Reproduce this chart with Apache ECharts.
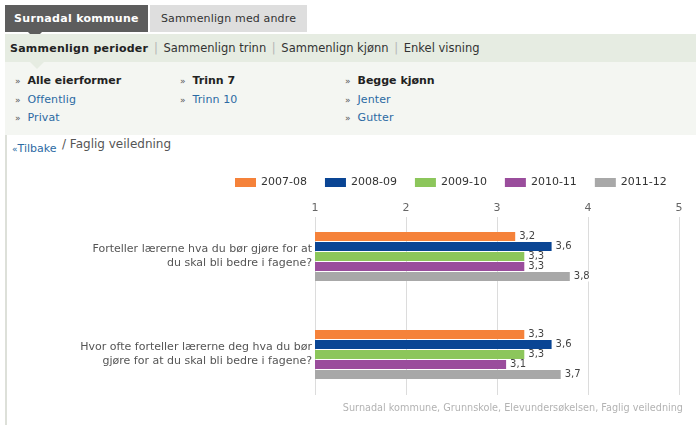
<!DOCTYPE html>
<html>
<head>
<meta charset="utf-8">
<script src="https://cdn.jsdelivr.net/npm/echarts@6/dist/echarts.min.js"></script>
<style>
  html, body { margin: 0; padding: 0; background: #fff; width: 696px; height: 425px; overflow: hidden; font-family: "DejaVu Sans", Verdana, sans-serif; }
  .abs { position: absolute; }
  .tab1 { left: 5px; top: 5px; width: 143px; height: 27px; background: #5d5d5d; color: #fff; font-weight: bold; font-size: 11px; letter-spacing: 0.3px; line-height: 27px; text-align: center; }
  .tab2 { left: 150px; top: 5px; width: 157px; height: 27px; background: #dedede; color: #333; font-size: 11px; letter-spacing: 0.15px; line-height: 27px; text-align: center; }
  .tri1 { left: 28px; top: 32px; width: 0; height: 0; border-left: 7px solid transparent; border-right: 7px solid transparent; border-top: 7px solid #5d5d5d; }
  .sub { left: 5px; top: 34px; right: 0; height: 28px; background: #e6ece2; font-size: 11.5px; line-height: 28px; color: #333; white-space: nowrap; }
  .sub b { color: #222; font-size: 11px; letter-spacing: 0.25px; }
  .sep { color: #b5b5b5; margin: 0 2px; }
  .tri2 { left: 30px; top: 62px; width: 0; height: 0; border-left: 7px solid transparent; border-right: 7px solid transparent; border-top: 7px solid #e6ece2; z-index: 2; }
  .panel { left: 5px; top: 62px; right: 0; height: 73px; background: #f4f6f2; }
  .it { font-size: 11px; white-space: nowrap; }
  .it .r { color: #555; font-size: 9px; margin-right: 7px; }
  .bold { color: #222; font-weight: bold; }
  .lnk { color: #2b6aa3; letter-spacing: 0.1px; }
  .lb { left: 5px; top: 135px; width: 2px; height: 290px; background: #dde0d9; }
  .back { left: 12px; top: 142px; font-size: 11px; color: #2b6aa3; }
  .crumb { left: 62px; top: 137px; font-size: 12px; color: #555; }
  #chart { position: absolute; left: 0; top: 0; width: 696px; height: 425px; }
</style>
</head>
<body>
<div class="abs tab1">Surnadal kommune</div>
<div class="abs tab2">Sammenlign med andre</div>
<div class="abs tri1"></div>
<div class="abs sub"><span style="margin-left:5px"><b>Sammenlign perioder</b></span> <span class="sep">|</span> Sammenlign trinn <span class="sep">|</span> Sammenlign kjønn <span class="sep">|</span> Enkel visning</div>
<div class="abs panel"></div>
<div class="abs tri2"></div>
<div class="abs it" style="left:15px;top:74px"><span class="r">»</span><span class="bold">Alle eierformer</span></div>
<div class="abs it" style="left:15px;top:93px"><span class="r">»</span><span class="lnk">Offentlig</span></div>
<div class="abs it" style="left:15px;top:111px"><span class="r">»</span><span class="lnk">Privat</span></div>
<div class="abs it" style="left:180px;top:74px"><span class="r">»</span><span class="bold">Trinn 7</span></div>
<div class="abs it" style="left:180px;top:93px"><span class="r">»</span><span class="lnk">Trinn 10</span></div>
<div class="abs it" style="left:345px;top:74px"><span class="r">»</span><span class="bold">Begge kjønn</span></div>
<div class="abs it" style="left:345px;top:93px"><span class="r">»</span><span class="lnk">Jenter</span></div>
<div class="abs it" style="left:345px;top:111px"><span class="r">»</span><span class="lnk">Gutter</span></div>
<div class="abs lb"></div>
<div class="abs back"><span style="font-size:9px">«</span>Tilbake</div>
<div class="abs crumb">/ Faglig veiledning</div>
<div id="chart"></div>
<script>
const categories = [
  "Forteller lærerne hva du bør gjøre for at\ndu skal bli bedre i fagene?",
  "Hvor ofte forteller lærerne deg hva du bør\ngjøre for at du skal bli bedre i fagene?"
];
const seriesNames = ["2007-08", "2008-09", "2009-10", "2010-11", "2011-12"];
const v2007 = [3.2, 3.3];
const v2008 = [3.6, 3.6];
const v2009 = [3.3, 3.3];
const v2010 = [3.3, 3.1];
const v2011 = [3.8, 3.7];
const colors = ["#f5823a", "#0a4594", "#8cc65b", "#9a4d9c", "#a8a8a8"];
const axisTicks = [1, 2, 3, 4, 5];
const footer = "Surnadal kommune, Grunnskole, Elevundersøkelsen, Faglig veiledning";

const allValues = [v2007, v2008, v2009, v2010, v2011];
const chart = echarts.init(document.getElementById('chart'), null, { renderer: 'canvas' });
const font = '"DejaVu Sans", Verdana, sans-serif';

chart.setOption({
  animation: false,
  backgroundColor: 'transparent',
  color: colors,
  textStyle: { fontFamily: font },
  title: {
    text: footer, right: 13, top: 403, padding: 0,
    textStyle: { fontSize: 9.7, fontWeight: 'normal', color: '#b3b3b3', fontFamily: font }
  },
  legend: {
    left: 235, top: 177, padding: 0, itemWidth: 21, itemHeight: 9, itemGap: 18, icon: 'rect',
    data: seriesNames,
    textStyle: { fontSize: 11, color: '#333', fontFamily: font }
  },
  grid: [
    { left: 315, right: 17, top: 207.5, height: 196, containLabel: false },
    { left: 315, right: 17, top: 217, bottom: 30, containLabel: false }
  ],
  xAxis: [
    { gridIndex: 0, type: 'value', min: axisTicks[0], max: axisTicks[axisTicks.length - 1], interval: 1, show: false },
    { gridIndex: 1, type: 'value', position: 'top', min: axisTicks[0], max: axisTicks[axisTicks.length - 1], interval: 1,
      axisLine: { show: false }, axisTick: { show: false },
      axisLabel: { margin: 3, fontSize: 11, color: '#666', fontFamily: font },
      splitLine: { show: true, lineStyle: { color: '#dcdcdc', width: 1 } } }
  ],
  yAxis: [
    { gridIndex: 0, type: 'category', inverse: true, data: categories,
      axisLine: { show: false }, axisTick: { show: false }, splitLine: { show: false },
      axisLabel: { margin: 3, fontSize: 11, color: '#555', lineHeight: 14, align: 'right', fontFamily: font } },
    { gridIndex: 1, type: 'value', min: 0, max: 1, show: false }
  ],
  series: seriesNames.map((name, i) => ({
    name, type: 'bar', xAxisIndex: 0, yAxisIndex: 0,
    data: allValues[i],
    barWidth: 9, barGap: '11.2%',
    label: {
      show: true, position: 'right', distance: 2,
      formatter: p => String(p.value).replace('.', ','),
      fontSize: 10, color: '#444', backgroundColor: '#fff', padding: [0, 2], fontFamily: font
    }
  }))
});
</script>
</body>
</html>
